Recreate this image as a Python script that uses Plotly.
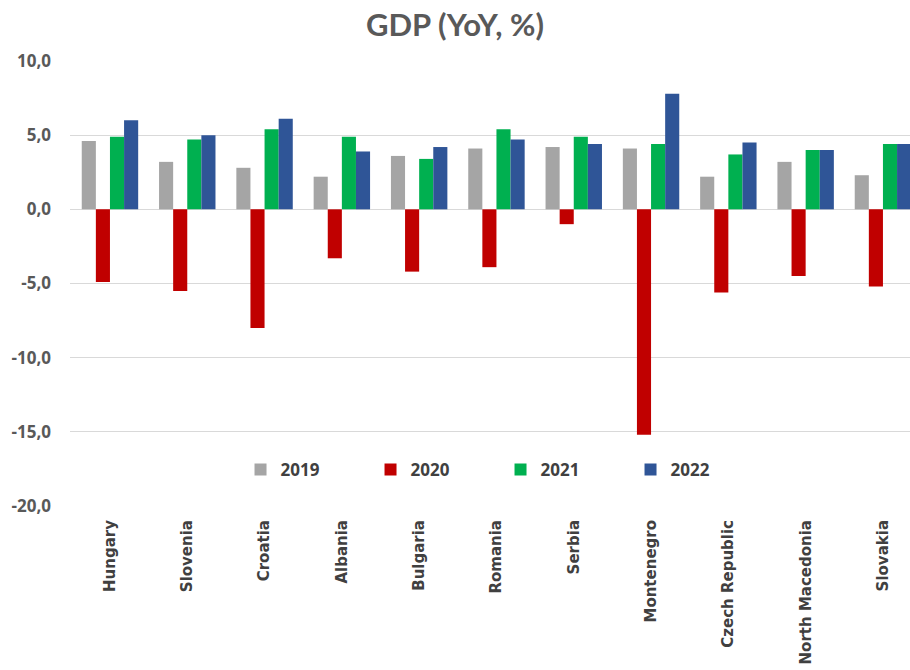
import plotly.graph_objects as go

countries = ["Hungary", "Slovenia", "Croatia", "Albania", "Bulgaria", "Romania",
             "Serbia", "Montenegro", "Czech Republic", "North Macedonia", "Slovakia"]
y2019 = [4.6, 3.2, 2.8, 2.2, 3.6, 4.1, 4.2, 4.1, 2.2, 3.2, 2.3]
y2020 = [-4.9, -5.5, -8.0, -3.3, -4.2, -3.9, -1.0, -15.2, -5.6, -4.5, -5.2]
y2021 = [4.9, 4.7, 5.4, 4.9, 3.4, 5.4, 4.9, 4.4, 3.7, 4.0, 4.4]
y2022 = [6.0, 5.0, 6.1, 3.9, 4.2, 4.7, 4.4, 7.8, 4.5, 4.0, 4.4]
years = ["2019", "2020", "2021", "2022"]
colors = ["#A5A5A5", "#C00000", "#00B050", "#2F5597"]
ytick_vals = [-20, -15, -10, -5, 0, 5, 10]
ytick_text = [("%.1f" % v).replace(".", ",") for v in ytick_vals]

fig = go.Figure()
for name, vals, col in zip(years, [y2019, y2020, y2021, y2022], colors):
    fig.add_trace(go.Bar(x=countries, y=vals, name=name, marker_color=col,
                         marker_line_width=0))

fig.update_layout(
    width=910, height=670,
    margin=dict(l=70, r=0, t=61, b=164),
    paper_bgcolor="white", plot_bgcolor="white",
    barmode="group", bargap=0.27, bargroupgap=0,
    font=dict(family="Open Sans", color="#595959"),
    title=dict(text="<b>GDP (YoY, %)</b>", x=0.5, xanchor="center",
               y=1 - 25 / 670, yanchor="middle", yref="container",
               font=dict(family="Lato", size=31, color="#595959")),
    legend=dict(orientation="h", x=0.203, y=0.081, xanchor="left", yanchor="middle",
                font=dict(family="Open Sans", size=17, color="#404040", weight="bold"),
                entrywidth=85, entrywidthmode="pixels", bgcolor="rgba(0,0,0,0)"),
    xaxis=dict(range=[-0.517, 10.35], tickangle=-90, showgrid=False,
               showline=False, ticks="", ticklabelstandoff=10,
               tickfont=dict(family="DejaVu Sans", size=15, color="#404040", weight="bold")),
    yaxis=dict(range=[-20, 10], tickmode="array", tickvals=ytick_vals, ticktext=ytick_text,
               showgrid=True, gridcolor="#D9D9D9", gridwidth=1, zeroline=True,
               zerolinecolor="#D9D9D9", zerolinewidth=1, ticks="", ticklabelstandoff=18,
               tickfont=dict(family="Open Sans", size=17, color="#595959", weight="bold")),
)

fig.write_html("out.html")
